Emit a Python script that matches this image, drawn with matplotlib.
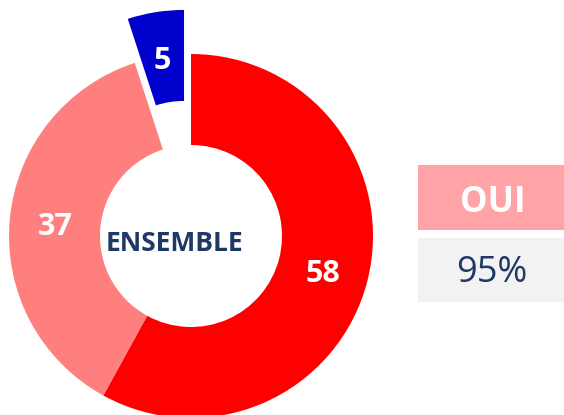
import numpy as np
import matplotlib
matplotlib.use("Agg")
import matplotlib.pyplot as plt
from matplotlib.patches import Rectangle

# Survey breakdown
categories = ["Oui, tout à fait", "Oui, plutôt", "Non"]
values = [58, 37, 5]
colors = ["#FF0000", "#FF7F7F", "#0000CC"]
explode = [0, 0, 0.245]
center_label = "ENSEMBLE"
summary_label = "OUI"
summary_value = "95%"

plt.rcParams["font.family"] = ["Open Sans", "DejaVu Sans"]

W, H = 564, 415
fig = plt.figure(figsize=(W / 100, H / 100), dpi=100)

# Donut axes: radius 1 -> 182 px, centre at (191, 236) px from top-left
R = 182.0
cx, cy = 191.0, 236.0
ax = fig.add_axes([0, 0, 1, 1])
wedges, _ = ax.pie(values, colors=colors, startangle=90, counterclock=False,
                   explode=explode, radius=1.0,
                   wedgeprops=dict(width=0.5, linewidth=0))
ax.set_xlim(-cx / R, (W - cx) / R)
ax.set_ylim(-(H - cy) / R, cy / R)
ax.set_aspect("equal")
ax.axis("off")

# text boxes include descender space; nudge labels down so glyphs sit centred
dy = 4 / R
for w, v in zip(wedges, values):
    ang = np.deg2rad((w.theta1 + w.theta2) / 2)
    ox, oy = w.center
    ax.text(ox + 0.75 * np.cos(ang), oy + 0.75 * np.sin(ang) - dy, str(v),
            ha="center", va="center", color="white", fontsize=22,
            fontweight="bold")

ax.text(-0.09, -0.02 - dy, center_label, ha="center", va="center",
        color="#1F3864", fontsize=19, fontweight="bold")

# Summary boxes on the right, in pixel coordinates
bx = fig.add_axes([0, 0, 1, 1])
bx.set_xlim(0, W)
bx.set_ylim(H, 0)
bx.axis("off")
bx.patch.set_alpha(0)
bx.add_patch(Rectangle((418, 165), 146, 65, facecolor="#FFA3A6", linewidth=0))
bx.add_patch(Rectangle((418, 238), 146, 64, facecolor="#F2F2F2", linewidth=0))
bx.text(493, 203, summary_label, ha="center", va="center", color="white",
        fontsize=25, fontweight="bold")
bx.text(492, 273, summary_value, ha="center", va="center", color="#1F3864",
        fontsize=26)

fig.savefig("out.png", dpi=100)
